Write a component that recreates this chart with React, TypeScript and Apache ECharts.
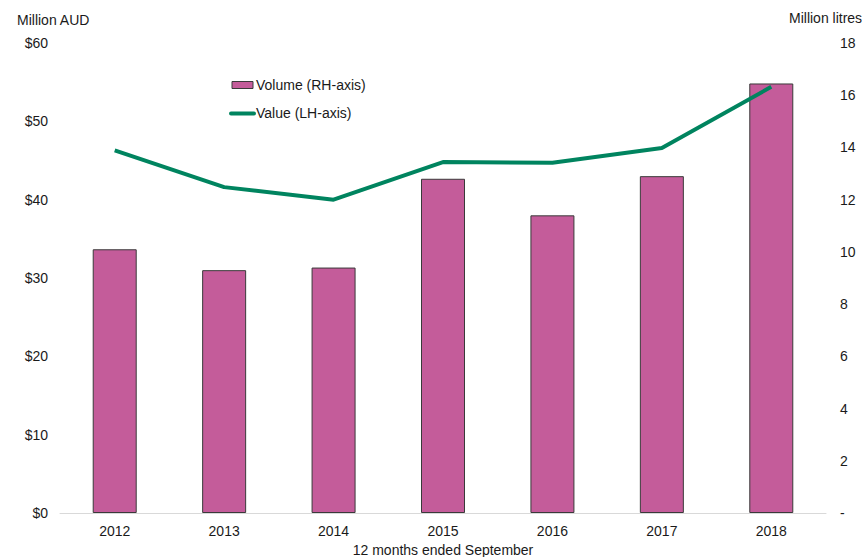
import React, { useEffect, useRef } from "react";
import * as echarts from "echarts";

const categories = ["2012", "2013", "2014", "2015", "2016", "2017", "2018"];
const volumeML = [10.1, 9.3, 9.4, 12.8, 11.4, 12.9, 16.45];
const valueAUD = [46.3, 41.6, 40.0, 44.8, 44.7, 46.6, 54.4];
const legendLabels = ["Volume (RH-axis)", "Value (LH-axis)"];

const FONT = "Liberation Sans, Arial, sans-serif";
const FS = 14;
const TXT = "#1a1a1a";
const BAR = "#C45C9A";
const LINE = "#00845F";

export default function App() {
  const ref = useRef<HTMLDivElement>(null);
  useEffect(() => {
    if (!ref.current) return;
    const chart = echarts.init(ref.current, undefined, { renderer: "svg" });
    chart.setOption({
      animation: false,
      backgroundColor: "#ffffff",
      textStyle: { fontFamily: FONT, color: TXT },
      grid: { left: 60, right: 36, top: 43, bottom: 44, outerBoundsMode: "none", containLabel: false },
      xAxis: {
        type: "category",
        data: categories,
        axisLine: { lineStyle: { color: "#d9d9d9", width: 1 } },
        axisTick: { show: false },
        axisLabel: { fontFamily: FONT, fontSize: FS, color: TXT, margin: 11 },
        name: "12 months ended September",
        nameLocation: "middle",
        nameGap: 30,
        nameTextStyle: { fontFamily: FONT, fontSize: FS, color: TXT },
      },
      yAxis: [
        {
          type: "value",
          min: 0,
          max: 60,
          interval: 10,
          axisLine: { show: false },
          axisTick: { show: false },
          splitLine: { show: false },
          axisLabel: {
            fontFamily: FONT,
            fontSize: FS,
            color: TXT,
            margin: 12,
            formatter: (v: number) => "$" + v,
          },
        },
        {
          type: "value",
          min: 0,
          max: 18,
          interval: 2,
          position: "right",
          axisLine: { show: false },
          axisTick: { show: false },
          splitLine: { show: false },
          axisLabel: {
            fontFamily: FONT,
            fontSize: FS,
            color: TXT,
            margin: 14,
            align: "left",
            formatter: (v: number) => (v === 0 ? "-" : String(v)),
          },
        },
      ],
      graphic: [
        {
          type: "text",
          left: 17,
          top: 13,
          style: { text: "Million AUD", fontFamily: FONT, fontSize: FS, fill: TXT },
        },
        {
          type: "text",
          left: 789,
          top: 11,
          style: { text: "Million litres", fontFamily: FONT, fontSize: FS, fill: TXT },
        },
        {
          type: "rect",
          shape: { x: 232, y: 81.5, width: 21, height: 7 },
          style: { fill: BAR, stroke: "#3a3a3a", lineWidth: 1 },
        },
        {
          type: "text",
          x: 256,
          y: 85,
          style: {
            text: legendLabels[0],
            fontFamily: FONT,
            fontSize: FS,
            fill: TXT,
            verticalAlign: "middle",
          },
        },
        {
          type: "line",
          shape: { x1: 231, y1: 113.5, x2: 254, y2: 113.5 },
          style: { stroke: LINE, lineWidth: 4, lineCap: "round" },
        },
        {
          type: "text",
          x: 256,
          y: 113,
          style: {
            text: legendLabels[1],
            fontFamily: FONT,
            fontSize: FS,
            fill: TXT,
            verticalAlign: "middle",
          },
        },
      ],
      series: [
        {
          name: legendLabels[0],
          type: "bar",
          yAxisIndex: 1,
          data: volumeML,
          barWidth: 44,
          itemStyle: { color: BAR, borderColor: "#3a3a3a", borderWidth: 1 },
        },
        {
          name: legendLabels[1],
          type: "line",
          yAxisIndex: 0,
          data: valueAUD,
          symbol: "none",
          lineStyle: { color: LINE, width: 4 },
          itemStyle: { color: LINE },
        },
      ],
    });
    return () => chart.dispose();
  }, []);
  return <div ref={ref} style={{ width: 862, height: 557, position: "fixed", left: 0, top: 0 }} />;
}
